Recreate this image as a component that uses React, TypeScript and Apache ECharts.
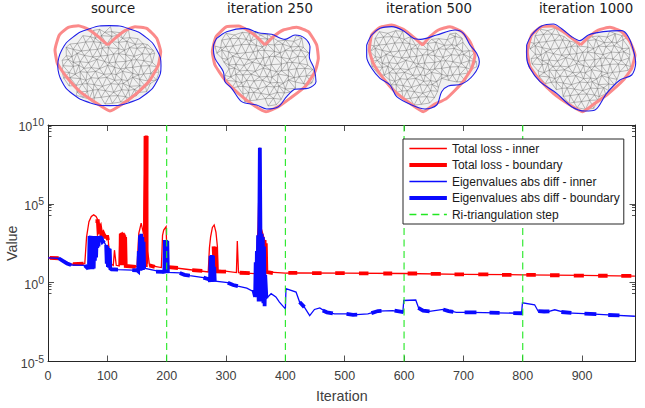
import React, { useEffect, useRef } from "react";
import * as echarts from "echarts";

type P = [number, number];

const legendNames = [
  "Total loss - inner",
  "Total loss - boundary",
  "Eigenvalues abs diff - inner",
  "Eigenvalues abs diff - boundary",
  "Ri-triangulation step",
];
const panelTitles = ["source", "iteration 250", "iteration 500", "iteration 1000"];
const retriangulationSteps = [200, 400, 600, 800];
const xTickStep = 100;

// main plot: [iteration, log10(value)]
const lossInner: P[] = [
  [0, 1.57], [18, 1.55], [39, 1.17], [62, 1.21], [65, 2.9], [69, 3.87], [73, 4.2], [77, 4.3], [81, 4.2], [84, 3.98], [90, 3.23], [101, 2.9], [105, 1.21],
  [110, 1.1], [112, 2.06], [115, 1.1], [120, 1.06], [121, 2.9], [125, 3.17], [130, 2.9], [132, 1.06], [150, 1.0], [153, 3.13], [157, 3.77], [161, 3.1],
  [164, 9.3], [167, 9.3], [168, 2.0], [171, 1.1], [191, 0.96], [193, 3.0], [195, 3.34], [199, 3.55], [201, 1.0], [233, 0.85], [270, 0.68], [272, 2.2],
  [274, 2.9], [277, 3.5], [280, 3.66], [283, 3.2], [285.5, 2.28], [286.5, 0.79], [317.5, 0.64], [319, 2.64], [321, 0.64], [348, 0.57], [351, 1.4],
  [354, 3.55], [357, 8.55], [358.5, 3.55], [365, 2.7], [368, 0.68], [400, 0.6], [420, 0.62], [500, 0.6], [600, 0.58], [700, 0.52], [800, 0.5], [900, 0.46], [989, 0.42],
];
const lossBoundary: P[][] = [
  [[3, 1.57], [18, 1.55]],
  [[42, 1.17], [60, 1.21]],
  [[80, 3.9], [84, 3.9], [85, 3.3], [88, 3.5], [90, 3.0], [93, 3.15], [96, 2.9], [100, 2.9], [101, 2.7]],
  [[122, 1.1], [122.6, 3.1], [123.2, 1.1], [123.8, 3.15], [124.4, 1.1], [125, 3.17], [125.6, 1.1], [126.2, 3.17], [126.8, 1.1], [127.4, 3.1], [128, 1.1], [128.6, 3.0], [129.2, 1.1], [130, 2.9], [131, 1.06], [148, 1.0]],
  [[163.5, 1.2], [164.3, 9.3], [164.8, 1.0], [165.3, 9.3], [165.8, 1.2], [166.3, 9.3]],
  [[171, 1.1], [180, 1.0]],
  [[203, 0.98], [219, 0.93]],
  [[243, 0.8], [260, 0.75]],
  [[279, 2.3], [281, 0.9], [283, 2.28], [284, 0.72], [300, 0.7]],
  [[323, 0.63], [340, 0.6]],
  [[361, 2.7], [362, 0.7], [363, 2.7], [364, 0.7], [365, 2.7], [366, 0.7], [367, 2.5], [368, 0.68], [379, 0.6]],
  [[405, 0.62], [420, 0.62]], [[445, 0.6], [461, 0.6]], [[484, 0.6], [500, 0.6]], [[524, 0.59], [540, 0.59]],
  [[565, 0.58], [580, 0.58]], [[606, 0.58], [622, 0.58]], [[645, 0.56], [662, 0.56]], [[685, 0.53], [701, 0.53]],
  [[725, 0.52], [742, 0.52]], [[765, 0.5], [781, 0.5]], [[806, 0.49], [822, 0.49]], [[846, 0.47], [862, 0.47]],
  [[886, 0.45], [903, 0.45]], [[927, 0.44], [943, 0.44]], [[966, 0.43], [983, 0.43]],
];
const eigInner: P[] = [
  [0, 1.57], [18, 1.55], [39, 1.12], [62, 1.1], [68, 1.0], [70, 2.95], [80, 2.9], [90, 2.95], [97, 2.4], [105, 1.9], [106, 0.9], [118, 0.83], [142, 0.8], [152, 0.85],
  [156, 3.0], [160, 2.0], [164, 0.9], [191, 0.68], [197, 0.7], [198, 2.7], [202, 0.65], [222, 0.62], [239, 0.45], [262, 0.32], [272, 0.2], [276, 1.75], [282, 0.1], [303, 0.0],
  [320, -0.22], [335, -0.35], [343, -0.5], [350, -0.5], [352, 1.4], [356, 3.2], [357, 8.55], [358, 3.2], [362, 2.7], [364, -0.6], [368, -1.0], [376, -0.7], [384, -0.9], [390, -1.23], [400, -1.66], [401, -0.38],
  [418, -0.6], [424, -1.23], [432, -1.55], [441, -2.09], [449, -1.7], [458, -1.6], [469, -1.87], [483, -1.98], [503, -1.98], [514, -2.04],
  [539, -1.98], [556, -1.8], [581, -1.77], [598, -1.87], [599.5, -1.13], [619.7, -1.1], [625, -1.66], [640, -1.83], [666, -1.7], [688, -1.89],
  [713, -1.89], [755.6, -1.91], [798, -1.94], [799.5, -1.28], [820, -1.4], [826, -1.81], [843, -1.83], [854, -1.72], [873.6, -1.91],
  [913, -1.98], [952, -2.06], [989, -2.13],
];
const eigBoundary: P[][] = [
  [[18, 1.55], [25, 1.38], [32, 1.22], [39, 1.12]],
  [[62, 1.1], [66, 0.95], [68, 1.0], [69, 0.85], [70, 2.95], [71, 0.85], [72, 2.95], [73, 0.85], [74, 2.95], [75, 0.85], [76, 2.95], [77, 0.9], [78, 2.95], [79, 1.4], [80, 2.9], [81, 1.6], [82, 2.85], [83, 2.2], [84, 2.95], [85, 2.3], [86, 2.9]],
  [[90, 2.9], [92, 2.6], [95, 2.7]],
  [[98, 2.4], [99, 1.2], [100, 2.3], [101, 1.0], [102, 2.2], [103, 0.95], [104, 2.15], [105, 0.9], [107, 0.85], [118, 0.83]],
  [[142, 0.8], [150, 0.78], [152, 0.72], [153, 2.0], [154, 0.8], [155, 3.0], [156, 0.75], [157, 3.1], [158, 0.8], [159, 2.9], [160, 0.8], [161, 2.6], [162, 0.9]],
  [[182, 0.7], [195, 0.68], [196, 0.6], [197, 2.7], [198, 0.6], [199, 2.7], [200, 0.6], [201, 2.65], [202, 0.65]],
  [[222, 0.62], [230, 0.5], [239, 0.45]],
  [[262, 0.32], [272, 0.2], [273, 0.05], [274, 1.7], [275, 0.05], [276, 1.75], [277, 0.05], [278, 1.7], [279, 0.05], [280, 1.0], [281, 0.1], [282, 0.1]],
  [[303, 0.0], [312, -0.15], [320, -0.22]],
  [[346, -0.45], [349, -0.9], [350, 1.3], [351, -0.9], [352, 2.0], [353, -0.9], [354, 3.0], [355, -1.2], [356, 3.2], [357, 8.55], [358, 3.0], [359, -1.0], [360, 3.1], [361, -1.2], [362, 2.9], [363, -1.3], [364, 2.3], [365, -1.5], [366, 0.5], [368, -1.0]],
  [[424, -1.23], [432, -1.55]],
  [[463, -1.76], [470, -1.88], [480, -1.95]],
  [[503, -1.98], [514, -2.04], [521, -2.03]],
  [[545, -1.93], [556, -1.8], [562, -1.79]],
  [[584, -1.78], [599, -1.87]],
  [[624, -1.6], [632, -1.78], [643, -1.82]],
  [[666, -1.7], [675, -1.8], [683, -1.85]],
  [[702, -1.89], [722, -1.89]],
  [[744, -1.9], [761, -1.91]],
  [[784, -1.93], [800, -1.94]],
  [[826, -1.81], [836, -1.83], [845, -1.82]],
  [[865, -1.86], [882, -1.92]],
  [[904, -1.96], [924, -1.99]],
  [[944, -2.05], [963, -2.07]],
];

// inset outlines (panel units: 1/3 px; y grows downwards)
const heart0: P[] = [[323,135],[345,115],[375,92],[405,80],[440,85],[470,115],[482,155],[475,195],[450,240],[410,280],[370,310],[330,333],[290,310],[240,275],[195,225],[172,190],[165,150],[178,105],[205,82],[235,77],[265,88],[295,110],[323,135]];
const blue0: P[] = [[173,197],[185,151],[218,112],[269,86],[328,77],[387,86],[438,112],[471,151],[483,197],[471,243],[438,282],[387,308],[328,317],[269,308],[218,282],[185,243],[173,197]];
const heart1: P[] = [[795,135],[820,110],[850,90],[890,82],[925,95],[950,135],[955,175],[945,215],[915,260],[870,295],[835,320],[798,335],[760,315],[715,280],[675,240],[645,195],[637,155],[648,110],[680,80],[715,78],[750,95],[775,115],[795,135]];
const blue1: P[] = [[650,115],[680,95],[735,85],[775,98],[815,103],[855,118],[885,105],[915,115],[930,140],[928,170],[942,205],[948,245],[925,265],[885,268],[860,290],[835,320],[800,327],[770,315],[725,305],[695,265],[675,245],[670,215],[645,175],[640,140],[650,115]];
const heart2: P[] = [[1268,135],[1290,110],[1315,90],[1350,80],[1385,95],[1410,125],[1425,165],[1415,205],[1385,250],[1340,295],[1300,315],[1270,335],[1230,310],[1185,275],[1150,235],[1120,190],[1108,150],[1115,105],[1140,82],[1175,75],[1210,88],[1245,115],[1268,135]];
const blue2: P[] = [[1100,135],[1115,105],[1140,85],[1175,80],[1210,92],[1240,115],[1262,118],[1310,105],[1365,90],[1390,100],[1410,135],[1430,160],[1438,185],[1420,225],[1385,252],[1345,258],[1325,275],[1310,315],[1275,327],[1235,315],[1190,290],[1170,255],[1140,235],[1115,205],[1100,170],[1100,135]];
const heart3: P[] = [[1742,135],[1765,112],[1795,90],[1830,82],[1865,95],[1890,125],[1905,165],[1895,205],[1870,240],[1820,285],[1785,310],[1748,335],[1710,315],[1660,280],[1615,235],[1590,200],[1582,155],[1595,105],[1625,80],[1655,78],[1690,95],[1720,118],[1742,135]];
const blue3: P[] = [[1580,135],[1595,105],[1625,78],[1660,72],[1690,90],[1715,110],[1740,122],[1765,105],[1810,95],[1865,92],[1885,110],[1900,150],[1907,190],[1895,225],[1860,240],[1820,280],[1785,330],[1755,333],[1715,320],[1670,280],[1620,245],[1590,205],[1580,170],[1580,135]];
const heartOutlines = [heart0, heart1, heart2, heart3];
const blueOutlines = [blue0, blue1, blue2, blue3];
const meshWobble = [2, -4, 5, -1, -5, 4, 1, -4, 6, -2, 3, -5, 1, 4, -3];

const inside = (p: P, poly: P[]) => {
  let c = false;
  for (let i = 0, j = poly.length - 1; i < poly.length; j = i++) {
    const [xi, yi] = poly[i];
    const [xj, yj] = poly[j];
    if (yi > p[1] !== yj > p[1] && p[0] < ((xj - xi) * (p[1] - yi)) / (yj - yi) + xi) c = !c;
  }
  return c;
};

// triangle mesh of one panel, clipped to its blue outline
const meshEdges = (poly: P[]) => {
  const xs = poly.map((p) => p[0]);
  const ys = poly.map((p) => p[1]);
  const x0 = Math.min(...xs) - 22;
  const y0 = Math.min(...ys) - 20;
  const nx = Math.ceil((Math.max(...xs) - x0) / 21) + 2;
  const ny = Math.ceil((Math.max(...ys) - y0) / 18) + 2;
  const v = (r: number, c: number): P => [
    x0 + c * 21 + (r % 2 ? 10.5 : 0) + meshWobble[(r * 4 + c * 7) % meshWobble.length],
    y0 + r * 18 + meshWobble[(r * 11 + c * 2 + 5) % meshWobble.length],
  ];
  const out: any[] = [];
  const add = (a: P, b: P) => {
    if (inside(a, poly) && inside(b, poly)) out.push(a, b, [a[0], null]);
  };
  for (let r = 0; r < ny; r++) {
    for (let c = 1; c < nx; c++) {
      const a = v(r, c);
      add(a, v(r, c + 1));
      add(a, v(r + 1, c));
      add(a, v(r + 1, r % 2 ? c + 1 : c - 1));
    }
  }
  return out;
};

const toValues = (pts: P[]) => pts.map(([x, l]) => [x, Math.pow(10, l)]);
const segmented = (segs: P[][]) => {
  const out: any[] = [];
  segs.forEach((s) => {
    out.push(...toValues(s));
    out.push([s[s.length - 1][0], null]);
  });
  return out;
};
const stepLines = () => {
  const out: any[] = [];
  retriangulationSteps.forEach((s) => out.push([s, 1e-5], [s, 1e10], [s, null]));
  return out;
};

const FONT = "Liberation Sans, Arial, sans-serif";
const INK = "#262626";
const LABEL = "#404040";
const THIN = 1.3;
const THICK = 3.8;

export default function App() {
  const ref = useRef<HTMLDivElement>(null);
  useEffect(() => {
    document.body.style.margin = "0";
    const chart = echarts.init(ref.current!, undefined, { renderer: "svg" });

    const yBase = {
      type: "log" as const,
      logBase: 10,
      min: 1e-5,
      max: 1e10,
      interval: 5,
      gridIndex: 0,
      splitLine: { show: false },
      axisLine: { show: true, onZero: false, lineStyle: { color: INK, width: 1 } },
      axisTick: { show: true, inside: true, length: 6, lineStyle: { color: INK, width: 0.8 } },
      minorTick: { show: true, splitNumber: 5, length: 3.5, lineStyle: { color: INK, width: 0.8 } },
      minorSplitLine: { show: false },
    };
    const xBase = {
      type: "value" as const,
      min: 0,
      max: 990,
      interval: xTickStep,
      gridIndex: 0,
      splitLine: { show: false },
      axisLine: { show: true, onZero: false, lineStyle: { color: INK, width: 1 } },
      axisTick: { show: true, inside: true, length: 6, lineStyle: { color: INK, width: 0.8 } },
    };

    const thin = (name: string, data: any[], color: string, width: number, dash?: any, z = 2) => ({
      name,
      type: "line" as const,
      data,
      xAxisIndex: 0,
      yAxisIndex: 0,
      symbol: "none",
      showSymbol: false,
      connectNulls: false,
      silent: true,
      z,
      lineStyle: { color, width, type: dash || "solid", cap: "butt" as const, join: "miter" as const },
      itemStyle: { color },
    });

    const insetSeries: any[] = [];
    blueOutlines.forEach((poly, i) => {
      insetSeries.push({
        type: "custom",
        xAxisIndex: 2,
        yAxisIndex: 2,
        data: [0],
        silent: true,
        z: 1,
        renderItem: (_: any, api: any) => ({
          type: "polygon",
          shape: { points: poly.map((p) => api.coord(p)) },
          style: { fill: "#f1f1f1", stroke: "none" },
        }),
      });
      insetSeries.push({
        type: "line", xAxisIndex: 2, yAxisIndex: 2, data: meshEdges(poly), symbol: "none", silent: true, z: 2,
        lineStyle: { color: "#5a5a5a", width: 0.4 },
      });
      insetSeries.push({
        type: "line", xAxisIndex: 2, yAxisIndex: 2, data: heartOutlines[i], symbol: "none", silent: true, z: 3, smooth: 0.15,
        lineStyle: { color: "#fb8a8a", width: 3 },
      });
      insetSeries.push({
        type: "line", xAxisIndex: 2, yAxisIndex: 2, data: poly, symbol: "none", silent: true, z: 4, smooth: i === 0 ? 0.5 : 0.3,
        lineStyle: { color: "#1f1fe8", width: 1.1 },
      });
    });

    chart.setOption({
      animation: false,
      backgroundColor: "#ffffff",
      textStyle: { fontFamily: FONT },
      title: panelTitles.map((text, i) => ({
        text,
        left: [108, 265, 424, 581][i],
        top: -3,
        textAlign: "center",
        textStyle: { fontFamily: "DejaVu Sans", fontSize: 13.3, fontWeight: "normal", color: "#1a1a1a" },
      })),
      grid: [
        { left: 48, top: 125, width: 587.5, height: 236.5, outerBoundsMode: "none" },
        { left: 0, top: 0, width: 645, height: 125, outerBoundsMode: "none" },
      ],
      xAxis: [
        {
          ...xBase,
          position: "bottom",
          name: "Iteration",
          nameLocation: "middle",
          nameGap: 27,
          nameMoveOverlap: false,
          nameTextStyle: { color: LABEL, fontSize: 14.3, fontFamily: FONT },
          axisLabel: { color: LABEL, fontSize: 12.5, margin: 8, showMaxLabel: false, fontFamily: FONT },
        },
        { ...xBase, position: "top", axisLabel: { show: false } },
        { type: "value", gridIndex: 1, min: 0, max: 1935, show: false },
      ],
      yAxis: [
        {
          ...yBase,
          position: "left",
          name: "Value",
          nameLocation: "middle",
          nameGap: 29,
          nameMoveOverlap: false,
          nameTextStyle: { color: LABEL, fontSize: 14.3, fontFamily: FONT },
          axisLabel: {
            color: LABEL,
            fontSize: 12.5,
            margin: 4,
            fontFamily: FONT,
            formatter: (v: number) => `{b|10}{s|${Math.round(Math.log10(v))}}`,
            rich: {
              b: { fontSize: 12.5, fontFamily: FONT, color: LABEL, padding: [4, 0, 0, 0] },
              s: { fontSize: 10.5, verticalAlign: "top", padding: [0, 0, 6, 0], fontFamily: FONT, color: LABEL },
            },
          },
        },
        { ...yBase, position: "right", axisLabel: { show: false } },
        { type: "value", gridIndex: 1, min: 0, max: 375, inverse: true, show: false },
      ],
      legend: {
        data: legendNames.map((name, i) => ({
          name,
          lineStyle: { width: i === 1 || i === 3 ? THICK : THIN },
        })),
        orient: "vertical",
        left: 403,
        top: 139,
        padding: [3.5, 4, 3.5, 4.5],
        itemWidth: 37.5,
        itemHeight: 12,
        itemGap: 4.5,
        backgroundColor: "#ffffff",
        borderColor: INK,
        borderWidth: 1,
        borderRadius: 0,
        selectedMode: false,
        itemStyle: { opacity: 0 },
        textStyle: { fontSize: 12, color: "#1a1a1a", fontFamily: FONT },
        z: 20,
      },
      series: [
        thin(legendNames[0], toValues(lossInner), "#ff0000", THIN),
        thin(legendNames[1], segmented(lossBoundary), "#ff0000", THICK, undefined, 3),
        thin(legendNames[2], toValues(eigInner), "#0a0aff", THIN, undefined, 4),
        thin(legendNames[3], segmented(eigBoundary), "#0a0aff", THICK, undefined, 5),
        thin(legendNames[4], stepLines(), "#22e822", 1.1, [7, 4.5], 6),
        ...insetSeries,
      ],
    });
    return () => chart.dispose();
  }, []);
  return <div ref={ref} style={{ position: "absolute", left: 0, top: 0, width: 645, height: 408 }} />;
}
